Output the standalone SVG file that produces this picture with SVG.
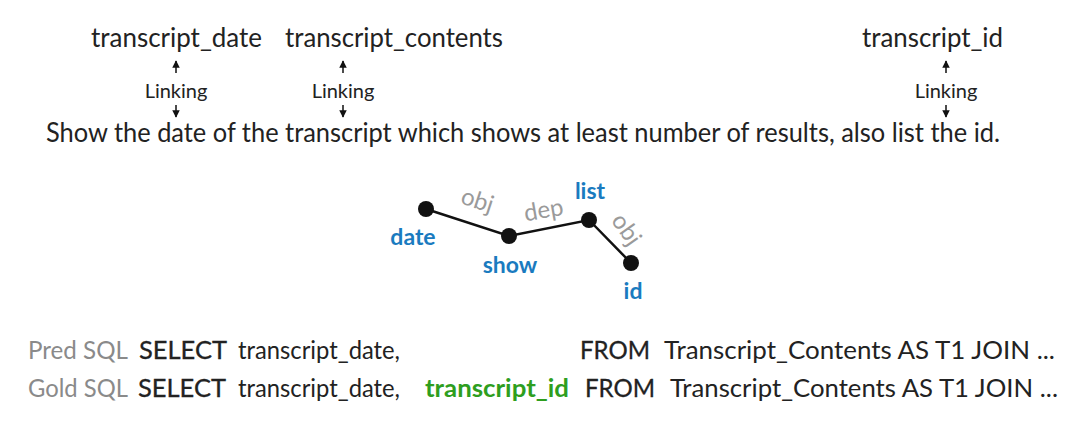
<svg xmlns="http://www.w3.org/2000/svg" width="1080" height="427" viewBox="0 0 1080 427">
  <style>
    text { font-family: Lato, "Open Sans", sans-serif; fill: #222; }
    .col { font-size: 26px; }
    .link { font-size: 20px; text-anchor: middle; }
    .q { font-size: 26px; }
    .word { font-size: 23px; font-weight: bold; fill: #1a7bbf; text-anchor: middle; }
    .rel { font-size: 24px; fill: #9a9a9a; text-anchor: middle; }
    .tag { font-size: 25px; fill: #8a8a8a; }
    .sql { font-size: 25px; }
    .kw { font-size: 25px; stroke: #222; stroke-width: 0.3; }
    .gold { font-size: 25px; font-weight: bold; fill: #2e9e1e; }
    .edge { stroke: #111; stroke-width: 2.5; fill: none; }
    .arr { stroke: #111; stroke-width: 1.5; fill: none; }
  </style>
  <defs>
    <marker id="head" viewBox="0 0 10 10" refX="9" refY="5" markerWidth="5" markerHeight="5" orient="auto">
      <path d="M0,0 L10,5 L0,10 z" fill="#111"/>
    </marker>
  </defs>
  <rect width="1080" height="427" fill="#fff"/>

  <!-- schema items -->
  <g id="col-date"><text class="col" x="91" y="47" textLength="171" lengthAdjust="spacingAndGlyphs">transcript_date</text></g>
  <g id="col-contents"><text class="col" x="285" y="47" textLength="218" lengthAdjust="spacingAndGlyphs">transcript_contents</text></g>
  <g id="col-id"><text class="col" x="862" y="47" textLength="141" lengthAdjust="spacingAndGlyphs">transcript_id</text></g>

  <!-- linking annotations -->
  <g id="link-date">
    <line class="arr" x1="176" y1="73" x2="176" y2="61" marker-end="url(#head)"/>
    <text class="link" x="176" y="98">Linking</text>
    <line class="arr" x1="176" y1="105" x2="176" y2="117" marker-end="url(#head)"/>
  </g>
  <g id="link-contents">
    <line class="arr" x1="343" y1="73" x2="343" y2="61" marker-end="url(#head)"/>
    <text class="link" x="343" y="98">Linking</text>
    <line class="arr" x1="343" y1="105" x2="343" y2="117" marker-end="url(#head)"/>
  </g>
  <g id="link-id">
    <line class="arr" x1="946" y1="73" x2="946" y2="61" marker-end="url(#head)"/>
    <text class="link" x="946" y="98">Linking</text>
    <line class="arr" x1="946" y1="105" x2="946" y2="117" marker-end="url(#head)"/>
  </g>

  <!-- question -->
  <g id="question">
    <text class="q" x="46" y="142" textLength="954" lengthAdjust="spacingAndGlyphs">Show the date of the transcript which shows at least number of results, also list the id.</text>
  </g>

  <!-- dependency graph -->
  <g id="connectors">
    <polyline class="edge" points="426,209 509,236 589,220 631,263"/>
    <text class="rel" transform="translate(475,208) rotate(18)">obj</text>
    <text class="rel" transform="translate(545,218) rotate(-10)">dep</text>
    <text class="rel" transform="translate(620,234) rotate(55)">obj</text>
  </g>
  <g id="node-date"><circle cx="426" cy="209" r="8" fill="#111"/><text class="word" x="413" y="245">date</text></g>
  <g id="node-show"><circle cx="509" cy="236" r="8" fill="#111"/><text class="word" x="510" y="273">show</text></g>
  <g id="node-list"><circle cx="589" cy="220" r="8" fill="#111"/><text class="word" x="590" y="199">list</text></g>
  <g id="node-id"><circle cx="631" cy="263" r="8" fill="#111"/><text class="word" x="633" y="299">id</text></g>

  <!-- SQL comparison -->
  <g id="pred-sql">
    <text class="tag" x="28" y="359" textLength="100" lengthAdjust="spacingAndGlyphs">Pred SQL</text>
    <text class="kw" x="139" y="359" textLength="88" lengthAdjust="spacingAndGlyphs">SELECT</text>
    <text class="sql" x="238" y="359" textLength="162" lengthAdjust="spacingAndGlyphs">transcript_date,</text>
    <text class="kw" x="580" y="359" textLength="70" lengthAdjust="spacingAndGlyphs">FROM</text>
    <text class="sql" x="664" y="359" textLength="391" lengthAdjust="spacingAndGlyphs">Transcript_Contents AS T1 JOIN ...</text>
  </g>
  <g id="gold-sql">
    <text class="tag" x="28" y="397" textLength="100" lengthAdjust="spacingAndGlyphs">Gold SQL</text>
    <text class="kw" x="138" y="397" textLength="88" lengthAdjust="spacingAndGlyphs">SELECT</text>
    <text class="sql" x="238" y="397" textLength="162" lengthAdjust="spacingAndGlyphs">transcript_date,</text>
    <text class="gold" x="425" y="397" textLength="144" lengthAdjust="spacingAndGlyphs">transcript_id</text>
    <text class="kw" x="585" y="397" textLength="70" lengthAdjust="spacingAndGlyphs">FROM</text>
    <text class="sql" x="670" y="397" textLength="388" lengthAdjust="spacingAndGlyphs">Transcript_Contents AS T1 JOIN ...</text>
  </g>
</svg>
